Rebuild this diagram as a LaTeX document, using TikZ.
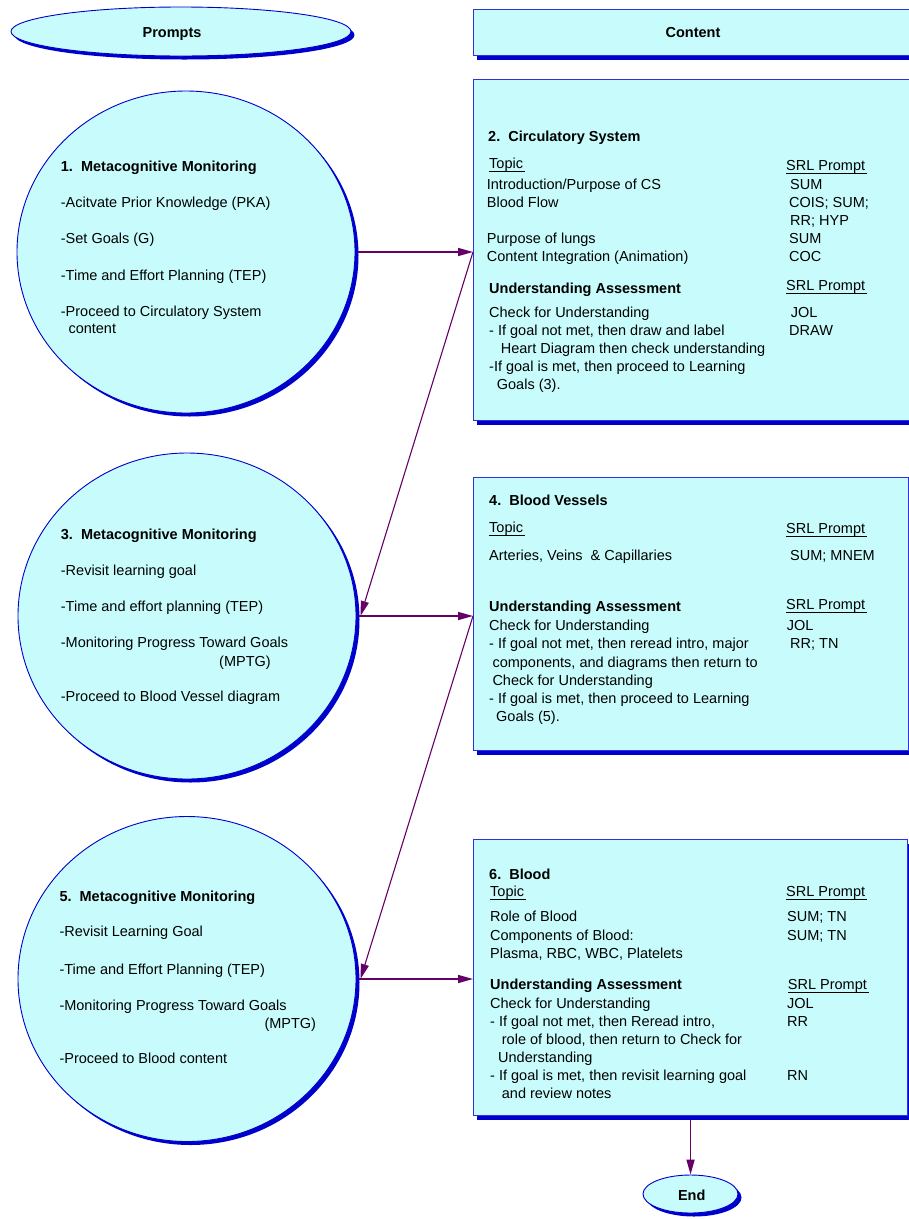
\documentclass[tikz,border=0pt]{standalone}
\usepackage{fontspec}
\setmainfont{Liberation Sans}
\usetikzlibrary{shapes.geometric,shadows,arrows.meta}
\definecolor{cyanfill}{HTML}{C8FCFC}
\definecolor{edgeblue}{HTML}{3030DC}
\definecolor{shblue}{HTML}{0000CC}
\definecolor{arrpurple}{HTML}{660066}
\newcommand{\ulx}[1]{\setbox0\hbox{#1}\rlap{\rule[-3.5pt]{\dimexpr\wd0+2pt\relax}{0.9pt}}\box0}
\newcommand{\txtline}[4]{\node[txt] (#1) at (#2,#3) {#4};}
\newcommand{\hdline}[4]{\node[hd] (#1) at (#2,#3) {#4};}
\begin{document}
\begin{tikzpicture}[x=1pt,y=-1pt,
  txt/.style={anchor=base west, inner sep=0pt, font=\fontsize{14.5}{18}\selectfont},
  hd/.style={anchor=base west, inner sep=0pt, font=\fontsize{14.5}{18}\selectfont\bfseries},
  lbl/.style={anchor=base, inner sep=0pt, font=\fontsize{14.5}{18}\selectfont\bfseries},
  oval/.style={ellipse, draw=shblue, line width=0.9pt, fill=cyanfill, inner sep=0pt,
    drop shadow={shadow xshift=3.5pt, shadow yshift=-3.5pt, fill=shblue, opacity=1}},
  box/.style={rectangle, draw=edgeblue, line width=1.1pt, fill=cyanfill, inner sep=0pt, anchor=north west,
    drop shadow={shadow xshift=3pt, shadow yshift=-4pt, fill=shblue, opacity=1}},
  arr/.style={draw=arrpurple, line width=1.5pt, -{Triangle[length=15pt,width=8pt]}},
  darr/.style={arr, line width=1.1pt},
]
\useasboundingbox (0,0) rectangle (909,1219);
\clip (0,0) rectangle (909,1219);

% headers
\node[oval, minimum width=340pt, minimum height=49pt] (prompts) at (181,31.5) {};
\node[lbl] (promptslbl) at (172,37.7) {Prompts};
\node[box, minimum width=450pt, minimum height=46pt] (content) at (473,9) {};
\node[lbl] (contentlbl) at (693,37.7) {Content};

% prompt ellipses
\node[oval, minimum width=338pt, minimum height=322pt] (e1) at (186,252) {};
\node[oval, minimum width=338pt, minimum height=326pt] (e3) at (187,616) {};
\node[oval, minimum width=338pt, minimum height=325pt] (e5) at (187,979) {};

% content boxes
\node[box, minimum width=450pt, minimum height=341pt] (b2) at (473,79) {};
\node[box, minimum width=435pt, minimum height=273pt] (b4) at (473,477) {};
\node[box, minimum width=434pt, minimum height=276pt] (b6) at (473,839) {};

% end
\node[oval, minimum width=95pt, minimum height=38pt] (end) at (690.5,1194) {};
\node[lbl] (endlbl) at (691.7,1200.7) {End};

% ellipse 1 text
\hdline{e1h}{60.7}{171.7}{1.\ \ Metacognitive Monitoring}
\txtline{e1a}{60.7}{207.7}{-Acitvate Prior Knowledge (PKA)}
\txtline{e1b}{60.7}{243}{-Set Goals (G)}
\txtline{e1c}{60.7}{280}{-Time and Effort Planning (TEP)}
\txtline{e1d}{60.7}{316}{-Proceed to Circulatory System}
\txtline{e1e}{68.3}{333.3}{content}

% ellipse 3 text
\hdline{e3h}{60.7}{539.3}{3.\ \ Metacognitive Monitoring}
\txtline{e3a}{60.7}{575}{-Revisit learning goal}
\txtline{e3b}{60.7}{611.7}{-Time and effort planning (TEP)}
\txtline{e3c}{60.7}{647.7}{-Monitoring Progress Toward Goals}
\txtline{e3d}{219}{666.7}{(MPTG)}
\txtline{e3e}{60.7}{701.7}{-Proceed to Blood Vessel diagram}

% ellipse 5 text
\hdline{e5h}{59.3}{901}{5.\ \ Metacognitive Monitoring}
\txtline{e5a}{59.3}{936.7}{-Revisit Learning Goal}
\txtline{e5b}{59.3}{974}{-Time and Effort Planning (TEP)}
\txtline{e5c}{59.3}{1010}{-Monitoring Progress Toward Goals}
\txtline{e5d}{264.3}{1028.3}{(MPTG)}
\txtline{e5e}{59.3}{1063.3}{-Proceed to Blood content}

% box 2 text
\hdline{b2h}{488}{141.7}{2.\ \ Circulatory System}
\txtline{b2t}{489}{168}{\ulx{Topic}}
\txtline{b2s}{786}{170}{\ulx{SRL Prompt}}
\txtline{b2a}{486.7}{189}{Introduction/Purpose of CS}
\txtline{b2b}{486.7}{207}{Blood Flow}
\txtline{b2c}{486.7}{243}{Purpose of lungs}
\txtline{b2d}{486.7}{261}{Content Integration (Animation)}
\txtline{b2p1}{790}{189}{SUM}
\txtline{b2p2}{789}{207}{COIS; SUM;}
\txtline{b2p3}{790}{225}{RR; HYP}
\txtline{b2p4}{789}{243}{SUM}
\txtline{b2p5}{789}{261}{COC}
\hdline{b2u}{489}{293}{Understanding Assessment}
\txtline{b2s2}{786}{290.7}{\ulx{SRL Prompt}}
\txtline{b2e}{489}{317}{Check for Understanding}
\txtline{b2f}{489}{335}{- If goal not met, then draw and label}
\txtline{b2g}{500.7}{353}{Heart Diagram then check understanding}
\txtline{b2h2}{489}{371}{-If goal is met, then proceed to Learning}
\txtline{b2i}{496.7}{389}{Goals (3).}
\txtline{b2p6}{790.7}{317}{JOL}
\txtline{b2p7}{789}{335}{DRAW}

% box 4 text
\hdline{b4h}{489}{505}{4.\ \ Blood Vessels}
\txtline{b4t}{489}{532}{\ulx{Topic}}
\txtline{b4s}{786}{533}{\ulx{SRL Prompt}}
\txtline{b4a}{489}{560}{Arteries, Veins\ \ \& Capillaries}
\txtline{b4p1}{790}{560}{SUM; MNEM}
\hdline{b4u}{489}{611.7}{Understanding Assessment}
\txtline{b4s2}{786}{609}{\ulx{SRL Prompt}}
\txtline{b4b}{489}{630}{Check for Understanding}
\txtline{b4c}{489}{648}{- If goal not met, then reread intro, major}
\txtline{b4d}{492.3}{667}{components, and diagrams then return to}
\txtline{b4e}{492.3}{685}{Check for Understanding}
\txtline{b4f}{489}{703}{- If goal is met, then proceed to Learning}
\txtline{b4g}{496}{721}{Goals (5).}
\txtline{b4p2}{786.7}{630}{JOL}
\txtline{b4p3}{790}{648}{RR; TN}

% box 6 text
\hdline{b6h}{489}{879}{6.\ \ Blood}
\txtline{b6t}{490}{896}{\ulx{Topic}}
\txtline{b6s}{786}{896.7}{\ulx{SRL Prompt}}
\txtline{b6a}{490}{921.7}{Role of Blood}
\txtline{b6b}{490}{940}{Components of Blood:}
\txtline{b6c}{490}{958}{Plasma, RBC, WBC, Platelets}
\txtline{b6p1}{787}{921.7}{SUM; TN}
\txtline{b6p2}{787}{940}{SUM; TN}
\hdline{b6u}{490}{989}{Understanding Assessment}
\txtline{b6s2}{787.7}{989}{\ulx{SRL Prompt}}
\txtline{b6d}{490}{1008}{Check for Understanding}
\txtline{b6e}{490}{1026.7}{- If goal not met, then Reread intro,}
\txtline{b6f}{501.7}{1044}{role of blood, then return to Check for}
\txtline{b6g}{498}{1062}{Understanding}
\txtline{b6h2}{490}{1080}{- If goal is met, then revisit learning goal}
\txtline{b6i}{501.7}{1098}{and review notes}
\txtline{b6p3}{787}{1008}{JOL}
\txtline{b6p4}{787}{1026.7}{RR}
\txtline{b6p5}{787}{1080}{RN}

% connectors
\draw[arr] ([xshift=3pt]e1.east) -- (e1.east -| b2.west);
\draw[darr] (e1.east -| b2.west) -- ([xshift=4pt]e3.east);
\draw[arr] ([xshift=3pt]e3.east) -- (e3.east -| b4.west);
\draw[darr] (e3.east -| b4.west) -- ([xshift=4pt]e5.east);
\draw[arr] ([xshift=3pt]e5.east) -- (e5.east -| b6.west);
\draw[arr] ([yshift=-4pt]b6.south) -- (b6.south |- end.north);
\end{tikzpicture}
\end{document}
